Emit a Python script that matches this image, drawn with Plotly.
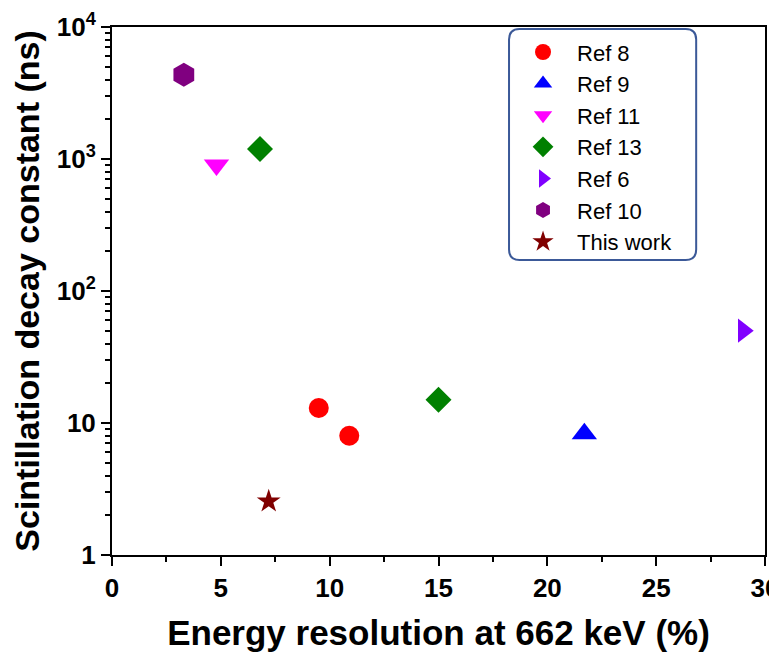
import plotly.graph_objects as go

# Data
series_names = ["Ref 8", "Ref 9", "Ref 11", "Ref 13", "Ref 6", "Ref 10", "This work"]
energy_res = [[9.5, 10.9], [21.7], [4.8], [6.8, 15.0], [29.0], [3.3], [7.2]]
decay_ns = [[13.0, 8.0], [8.3], [900.0], [1190.0, 15.0], [50.0], [4350.0], [2.55]]
symbols = ["circle", "triangle-up", "triangle-down", "diamond", "triangle-right", "hexagon", "star"]
colors = ["#FF0000", "#0000FF", "#FF00FF", "#008000", "#8000FF", "#800080", "#800000"]
sizes = [20, 22, 22, 20, 21, 24, 18]

y_tickvals = [1, 10, 100, 1000, 10000]
y_ticktext = ["1", "10", "10<sup>2</sup>", "10<sup>3</sup>", "10<sup>4</sup>"]
y_minor = [m * 10 ** d for d in range(4) for m in range(2, 10)]
x_tickvals = [0, 5, 10, 15, 20, 25, 30]

fig = go.Figure()
for i, name in enumerate(series_names):
    fig.add_trace(go.Scatter(
        x=energy_res[i], y=decay_ns[i], mode="markers", name=name,
        marker=dict(symbol=symbols[i], color=colors[i], size=sizes[i], line=dict(width=0)),
    ))

font_family = "Liberation Sans, Arial, sans-serif"

fig.update_layout(
    width=777, height=654,
    margin=dict(l=104, r=20, t=19, b=107),
    paper_bgcolor="white", plot_bgcolor="white",
    font=dict(family=font_family, color="black"),
    showlegend=True,
    legend=dict(
        x=0.608, y=0.992, xanchor="left", yanchor="top",
        bgcolor="rgba(0,0,0,0)", borderwidth=0,
        font=dict(size=22, family=font_family, color="black"),
        itemwidth=58,
    ),
    xaxis=dict(
        range=[0, 30], tickmode="array", tickvals=x_tickvals, automargin=False,
        showline=True, linecolor="black", linewidth=2, mirror=True,
        ticks="outside", ticklen=9, tickwidth=2, tickcolor="black",
        tickfont=dict(size=26, family=font_family, weight="bold"),
        minor=dict(tickmode="linear", tick0=0, dtick=2.5, ticks="outside", ticklen=5, tickwidth=2, tickcolor="black"),
        showgrid=False, zeroline=False,
        title=dict(text="<b>Energy resolution at 662 keV (%)</b>", font=dict(size=35, family=font_family), standoff=18),
    ),
    yaxis=dict(
        type="log", range=[0, 4], tickmode="array", tickvals=y_tickvals, ticktext=y_ticktext, automargin=False,
        showline=True, linecolor="black", linewidth=2, mirror=True,
        ticks="outside", ticklen=9, tickwidth=2, tickcolor="black",
        tickfont=dict(size=26, family=font_family, weight="bold"),
        minor=dict(tickmode="array", tickvals=y_minor, ticks="outside", ticklen=5, tickwidth=2, tickcolor="black"),
        showgrid=False, zeroline=False,
        title=dict(text="<b>Scintillation decay constant (ns)</b>", font=dict(size=34, family=font_family), standoff=12),
    ),
)

# rounded legend frame
x0, x1, y0, y1 = 0.608, 0.8946, 0.5587, 0.9962
rx, ry = 0.016, 0.02
path = (f"M {x0+rx},{y1} L {x1-rx},{y1} Q {x1},{y1} {x1},{y1-ry} "
        f"L {x1},{y0+ry} Q {x1},{y0} {x1-rx},{y0} "
        f"L {x0+rx},{y0} Q {x0},{y0} {x0},{y0+ry} "
        f"L {x0},{y1-ry} Q {x0},{y1} {x0+rx},{y1} Z")
fig.add_shape(type="path", path=path, xref="paper", yref="paper",
              line=dict(color="#3B5998", width=2), fillcolor="rgba(0,0,0,0)")

fig.write_html("out.html")
